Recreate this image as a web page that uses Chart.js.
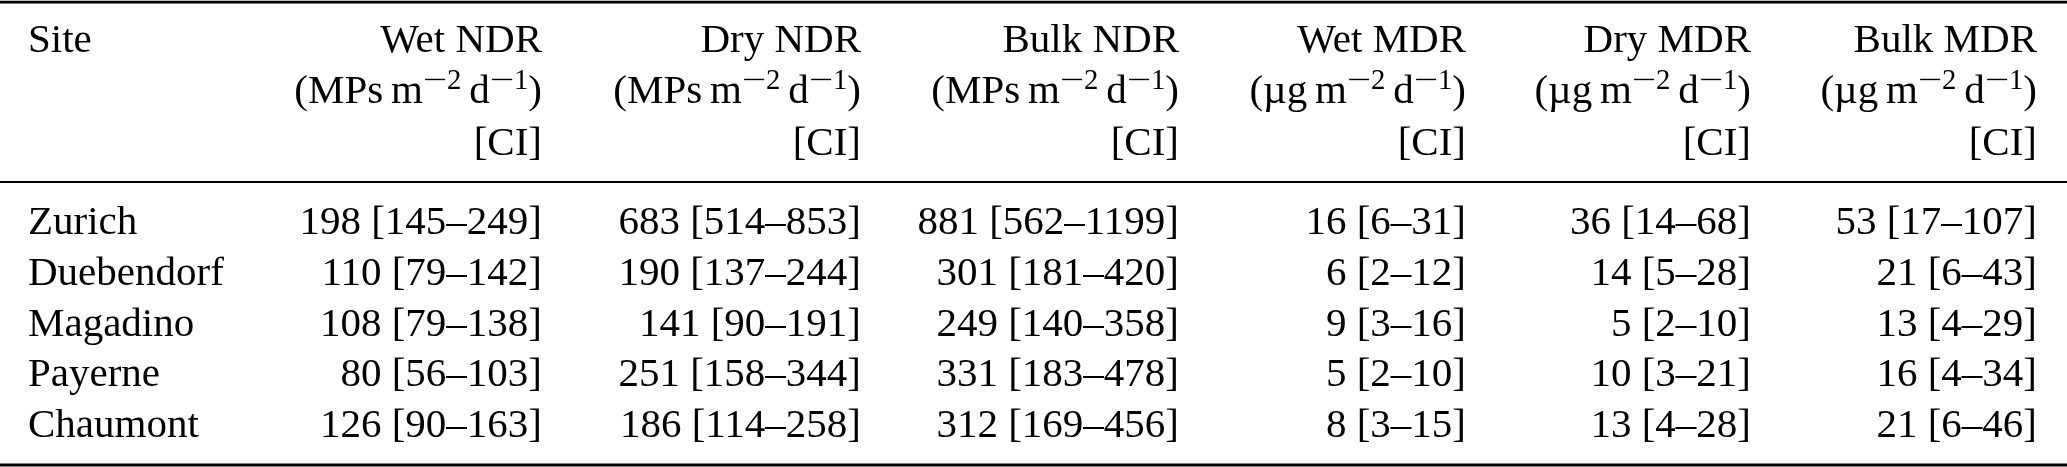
<!DOCTYPE html>
<html>
<head>
<meta charset="utf-8">
<script src="https://cdn.jsdelivr.net/npm/chart.js@4"></script>
<style>
  html, body { margin: 0; padding: 0; background: #fff; }
  #wrap { width: 2067px; height: 467px; }
</style>
</head>
<body>
<div id="wrap"><canvas id="table" width="2067" height="467"></canvas></div>
<script>
// table data
const sites = ["Zurich", "Duebendorf", "Magadino", "Payerne", "Chaumont"];
const columns = ["Wet NDR", "Dry NDR", "Bulk NDR", "Wet MDR", "Dry MDR", "Bulk MDR"];
const unitType = ["MPs", "MPs", "MPs", "µg", "µg", "µg"];

const wetNDR = [198, 110, 108, 80, 126];
const wetNDRlo = [145, 79, 79, 56, 90];
const wetNDRhi = [249, 142, 138, 103, 163];

const dryNDR = [683, 190, 141, 251, 186];
const dryNDRlo = [514, 137, 90, 158, 114];
const dryNDRhi = [853, 244, 191, 344, 258];

const bulkNDR = [881, 301, 249, 331, 312];
const bulkNDRlo = [562, 181, 140, 183, 169];
const bulkNDRhi = [1199, 420, 358, 478, 456];

const wetMDR = [16, 6, 9, 5, 8];
const wetMDRlo = [6, 2, 3, 2, 3];
const wetMDRhi = [31, 12, 16, 10, 15];

const dryMDR = [36, 14, 5, 10, 13];
const dryMDRlo = [14, 5, 2, 3, 4];
const dryMDRhi = [68, 28, 10, 21, 28];

const bulkMDR = [53, 21, 13, 16, 21];
const bulkMDRlo = [17, 6, 4, 4, 6];
const bulkMDRhi = [107, 43, 29, 34, 46];

// layout (scale units)
const siteX = 28;
const colRight = [542, 861, 1179, 1466, 1751, 2037];
const headerRows = [-3.586, -2.581, -1.557];
const rules = [[-4.571, 2.8], [-1.025, 1.8], [4.552, 2.8]];
const FONT = 41;
const FAMILY = "'Liberation Serif', 'Times New Roman', serif";

const vals = [wetNDR, dryNDR, bulkNDR, wetMDR, dryMDR, bulkMDR];
const los = [wetNDRlo, dryNDRlo, bulkNDRlo, wetMDRlo, dryMDRlo, bulkMDRlo];
const his = [wetNDRhi, dryNDRhi, bulkNDRhi, wetMDRhi, dryMDRhi, bulkMDRhi];

function cellText(c, r) {
  return vals[c][r] + " [" + los[c][r] + "\u2013" + his[c][r] + "]";
}

// one dataset for the site names, one per value column
const datasets = [{
  label: "Site",
  data: sites.map((s, r) => ({ x: siteX, y: r })),
  align: "left",
  texts: sites,
  pointRadius: 0
}];
columns.forEach((name, c) => {
  datasets.push({
    label: name,
    data: sites.map((s, r) => ({ x: colRight[c], y: r })),
    align: "right",
    texts: sites.map((s, r) => cellText(c, r)),
    pointRadius: 0
  });
});

// draw a line made of pieces (normal + superscript), right aligned at x
function drawRich(ctx, pieces, x, y) {
  let total = 0;
  pieces.forEach(p => {
    ctx.font = (p.sup ? FONT * 0.7 : FONT) + "px " + FAMILY;
    p.w = p.gap ? FONT * p.gap : ctx.measureText(p.t).width * (p.stretch || 1);
    total += p.w;
  });
  let cx = x - total;
  pieces.forEach(p => {
    if (!p.gap) {
      ctx.font = (p.sup ? FONT * 0.7 : FONT) + "px " + FAMILY;
      ctx.save();
      ctx.translate(cx, p.sup ? y - FONT * 0.34 : y);
      ctx.scale(p.stretch || 1, 1);
      ctx.fillText(p.t, 0, 0);
      ctx.restore();
    }
    cx += p.w;
  });
}

const tablePlugin = {
  id: "tableText",
  afterDatasetsDraw(chart) {
    const ctx = chart.ctx;
    const xs = chart.scales.x;
    const ys = chart.scales.y;
    ctx.save();
    ctx.fillStyle = "#000";
    ctx.textBaseline = "alphabetic";

    // rules
    ctx.strokeStyle = "#000";
    rules.forEach(([v, w]) => {
      const py = ys.getPixelForValue(v);
      ctx.lineWidth = w;
      ctx.beginPath();
      ctx.moveTo(xs.left, py);
      ctx.lineTo(xs.right, py);
      ctx.stroke();
    });

    // header
    ctx.font = FONT + "px " + FAMILY;
    ctx.textAlign = "left";
    ctx.fillText("Site", xs.getPixelForValue(siteX), ys.getPixelForValue(headerRows[0]));
    columns.forEach((name, c) => {
      const px = xs.getPixelForValue(colRight[c]);
      ctx.font = FONT + "px " + FAMILY;
      ctx.textAlign = "right";
      ctx.fillText(name, px, ys.getPixelForValue(headerRows[0]));
      ctx.fillText("[CI]", px, ys.getPixelForValue(headerRows[2]));
      ctx.textAlign = "left";
      drawRich(ctx, [
        { t: "(" + unitType[c] },
        { gap: 0.19 },
        { t: "m" },
        { t: "\u2212", sup: true, stretch: 1.5 },
        { t: "2", sup: true },
        { gap: 0.19 },
        { t: "d" },
        { t: "\u2212", sup: true, stretch: 1.5 },
        { t: "1", sup: true },
        { t: ")" }
      ], px, ys.getPixelForValue(headerRows[1]));
    });

    // body cells
    ctx.font = FONT + "px " + FAMILY;
    chart.data.datasets.forEach((ds, i) => {
      const meta = chart.getDatasetMeta(i);
      ctx.textAlign = ds.align;
      meta.data.forEach((pt, r) => {
        ctx.fillText(ds.texts[r], pt.x, pt.y);
      });
    });
    ctx.restore();
  }
};

new Chart(document.getElementById("table"), {
  type: "scatter",
  data: { datasets: datasets },
  options: {
    responsive: false,
    devicePixelRatio: 1,
    animation: false,
    layout: { padding: 0 },
    plugins: { legend: { display: false }, tooltip: { enabled: false } },
    scales: {
      x: { type: "linear", min: 0, max: 2067, display: false },
      y: { type: "linear", min: -4.611, max: 4.591, reverse: true, display: false }
    }
  },
  plugins: [tablePlugin]
});
</script>
</body>
</html>
